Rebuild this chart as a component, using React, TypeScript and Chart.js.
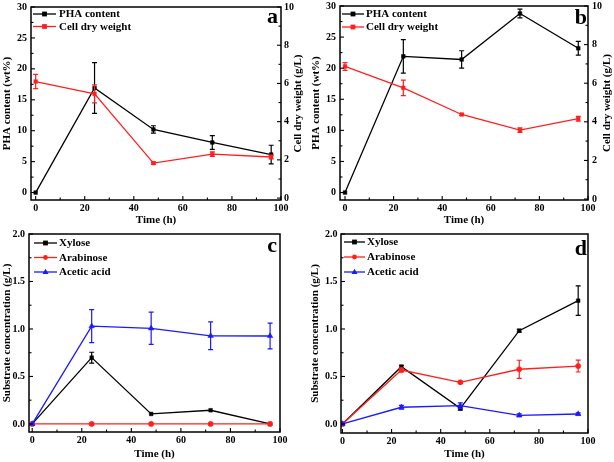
import React, { useEffect, useRef } from "react";
import { Chart, registerables } from "chart.js";
Chart.register(...registerables);

const FONT = "'Liberation Serif', 'Times New Roman', serif";

// ---------- data ----------
const timeH = [0, 24, 48, 72, 96];
const timeTicks = [0, 20, 40, 60, 80, 100];
const phaTicks = [0, 5, 10, 15, 20, 25, 30];
const cdwTicks = [0, 2, 4, 6, 8, 10];
const concTicks = [0, 0.5, 1.0, 1.5, 2.0];

// panel a
const phaA = [0, 16.9, 10.2, 8.1, 6.15];
const phaAErr = [0, 4.1, 0.6, 1.1, 1.5];
const cdwA = [6.1, 5.45, 1.83, 2.3, 2.15];
const cdwAErr = [0.37, 0.47, 0.05, 0.12, 0.1];

// panel b
const phaB = [0, 21.9, 21.4, 28.8, 23.2];
const phaBErr = [0, 2.7, 1.4, 0.7, 1.1];
const cdwB = [6.87, 5.76, 4.38, 3.57, 4.16];
const cdwBErr = [0.2, 0.4, 0.05, 0.12, 0.12];

// panel c
const xylC = [0, 0.698, 0.105, 0.144, 0];
const xylCErr = [0, 0.057, 0, 0, 0];
const araC = [0, 0, 0, 0, 0];
const araCErr = [0, 0, 0, 0, 0];
const aceC = [0, 1.03, 1.007, 0.928, 0.926];
const aceCErr = [0, 0.173, 0.17, 0.146, 0.135];

// panel d
const xylD = [0, 0.603, 0.165, 0.982, 1.298];
const xylDErr = [0, 0.015, 0.02, 0.015, 0.155];
const araD = [0, 0.568, 0.439, 0.576, 0.61];
const araDErr = [0, 0.02, 0.01, 0.095, 0.063];
const aceD = [0, 0.176, 0.193, 0.091, 0.105];
const aceDErr = [0, 0.02, 0.03, 0.015, 0.012];

const BLACK = "#000000";
const RED = "#ff1f1f";
const BLUE = "#1a1aff";

// ---------- helpers ----------
function series(label: string, ys: number[], errs: number[], color: string, style: string, axis: string, order: number) {
  return {
    label,
    data: timeH.map((t, i) => ({ x: t, y: ys[i] })),
    errors: errs,
    borderColor: color,
    backgroundColor: color,
    pointBackgroundColor: color,
    pointBorderColor: color,
    pointStyle: style,
    pointRadius: style === "triangle" ? 3.2 : 2.6,
    pointBorderWidth: 0.5,
    borderWidth: 1.3,
    yAxisID: axis,
    tension: 0,
    order,
  };
}

function midpoints(arr: number[]) {
  const out: number[] = [];
  for (let i = 0; i < arr.length - 1; i++) out.push((arr[i] + arr[i + 1]) / 2);
  return out;
}

function drawMarker(ctx: CanvasRenderingContext2D, style: string, x: number, y: number, r: number) {
  ctx.beginPath();
  if (style === "rect") {
    ctx.rect(x - r, y - r, 2 * r, 2 * r);
  } else if (style === "circle") {
    ctx.arc(x, y, r, 0, Math.PI * 2);
  } else {
    ctx.moveTo(x, y - r * 1.1);
    ctx.lineTo(x + r, y + r * 0.7);
    ctx.lineTo(x - r, y + r * 0.7);
    ctx.closePath();
  }
  ctx.fill();
}

const decorPlugin = {
  id: "decor",
  afterDatasetDraw(chart: any, args: any) {
    const ds = chart.data.datasets[args.index];
    const errs: number[] = ds.errors;
    if (!errs) return;
    const meta = args.meta;
    const ys = chart.scales[meta.yAxisID];
    const ctx = chart.ctx;
    ctx.save();
    ctx.strokeStyle = ds.borderColor;
    ctx.lineWidth = 1.2;
    meta.data.forEach((pt: any, i: number) => {
      const e = errs[i];
      if (!e) return;
      const v = ds.data[i].y;
      const top = ys.getPixelForValue(v + e);
      const bot = ys.getPixelForValue(v - e);
      const x = pt.x;
      ctx.beginPath();
      ctx.moveTo(x, top);
      ctx.lineTo(x, bot);
      ctx.moveTo(x - 2.5, top);
      ctx.lineTo(x + 2.5, top);
      ctx.moveTo(x - 2.5, bot);
      ctx.lineTo(x + 2.5, bot);
      ctx.stroke();
    });
    ctx.restore();
  },
  afterDraw(chart: any, _args: any, opts: any) {
    const ctx: CanvasRenderingContext2D = chart.ctx;
    const a = chart.chartArea;
    ctx.save();
    // frame
    ctx.strokeStyle = "#000";
    ctx.lineWidth = 1.5;
    ctx.strokeRect(a.left, a.top, a.right - a.left, a.bottom - a.top);
    // inward ticks
    ctx.lineWidth = 1.1;
    const tickSets: any[] = opts.ticks || [];
    tickSets.forEach((t: any) => {
      const s = chart.scales[t.axis];
      const draw = (vals: number[], len: number) => {
        vals.forEach((v) => {
          const p = s.getPixelForValue(v);
          ctx.beginPath();
          if (t.axis === "x") {
            ctx.moveTo(p, a.bottom);
            ctx.lineTo(p, a.bottom - len);
          } else if (t.side === "right") {
            ctx.moveTo(a.right, p);
            ctx.lineTo(a.right - len, p);
          } else {
            ctx.moveTo(a.left, p);
            ctx.lineTo(a.left + len, p);
          }
          ctx.stroke();
        });
      };
      draw(t.major, 4);
      draw(midpoints(t.major), 2.5);
    });
    // right-axis title (reads bottom to top)
    if (opts.rightTitle) {
      ctx.save();
      ctx.translate(opts.rightTitle.x, (a.top + a.bottom) / 2);
      ctx.rotate(-Math.PI / 2);
      ctx.font = `bold 11px ${FONT}`;
      ctx.fillStyle = "#000";
      ctx.textAlign = "center";
      ctx.textBaseline = "middle";
      ctx.fillText(opts.rightTitle.text, 0, 0);
      ctx.restore();
    }
    // legend
    const lg = opts.legend;
    if (lg) {
      chart.data.datasets.forEach((ds: any, i: number) => {
        const y = lg.y + i * lg.dy;
        ctx.strokeStyle = ds.borderColor;
        ctx.fillStyle = ds.borderColor;
        ctx.lineWidth = 1.3;
        ctx.beginPath();
        ctx.moveTo(lg.x, y);
        ctx.lineTo(lg.x + lg.len, y);
        ctx.stroke();
        drawMarker(ctx, ds.pointStyle, lg.x + lg.len / 2, y, ds.pointStyle === "triangle" ? 3 : 2.4);
        ctx.fillStyle = "#000";
        ctx.font = `bold 11px ${FONT}`;
        ctx.textAlign = "left";
        ctx.textBaseline = "middle";
        ctx.fillText(ds.label, lg.x + lg.len + lg.gap, y + 0.5);
      });
    }
    // panel letter
    if (opts.letter) {
      ctx.fillStyle = "#000";
      ctx.font = `bold 22px ${FONT}`;
      ctx.textAlign = "right";
      ctx.textBaseline = "alphabetic";
      ctx.fillText(opts.letter.text, opts.letter.x, opts.letter.y);
    }
    ctx.restore();
  },
};

const tickFont = { family: FONT, size: 10, weight: "bold" as const };
const titleFont = { family: FONT, size: 11, weight: "bold" as const };

function vAxis(opts: any) {
  return {
    type: "linear",
    position: opts.position,
    min: opts.min,
    max: opts.max,
    grid: { display: false, drawTicks: false },
    border: { display: false },
    afterBuildTicks: (s: any) => {
      s.ticks = opts.ticks.map((v: number) => ({ value: v }));
    },
    afterFit: (s: any) => {
      s.width = opts.width;
      s.paddingTop = 0;
      s.paddingBottom = 0;
    },
    ticks: {
      autoSkip: false,
      color: "#000",
      font: tickFont,
      padding: opts.pad,
      callback: (v: any) => (opts.fixed ? Number(v).toFixed(1) : String(v)),
    },
    title: opts.title
      ? { display: true, text: opts.title, color: "#000", font: titleFont, padding: { top: opts.titlePad, bottom: 0 } }
      : { display: false },
  };
}

function xAxis(opts: any) {
  return {
    type: "linear",
    min: opts.min,
    max: 100,
    grid: { display: false, drawTicks: false },
    border: { display: false },
    afterBuildTicks: (s: any) => {
      s.ticks = timeTicks.map((v) => ({ value: v }));
    },
    afterFit: (s: any) => {
      s.height = opts.height;
      s.paddingLeft = 0;
      s.paddingRight = 0;
    },
    ticks: { autoSkip: false, maxRotation: 0, color: "#000", font: tickFont, padding: 2 },
    title: { display: true, text: "Time (h)", color: "#000", font: titleFont, padding: { top: 0, bottom: opts.titlePad } },
  };
}

type PanelCfg = {
  left: number;
  top: number;
  w: number;
  h: number;
  padTop: number;
  padRight: number;
  datasets: any[];
  scales: any;
  decor: any;
};

const panels: PanelCfg[] = [
  {
    left: 0,
    top: 0,
    w: 307,
    h: 231,
    padTop: 7,
    padRight: 0,
    datasets: [
      series("PHA content", phaA, phaAErr, BLACK, "rect", "y", 1),
      series("Cell dry weight", cdwA, cdwAErr, RED, "rect", "y2", 0),
    ],
    scales: {
      x: xAxis({ min: -1.9, height: 31, titlePad: 4.4 }),
      y: vAxis({ position: "left", min: -1.2, max: 30, ticks: phaTicks, width: 31, pad: 4, title: "PHA content (wt%)", titlePad: 1 }),
      y2: vAxis({ position: "right", min: -0.1, max: 10, ticks: cdwTicks, width: 26, pad: 3 }),
    },
    decor: {
      ticks: [
        { axis: "x", major: timeTicks },
        { axis: "y", major: phaTicks },
        { axis: "y2", side: "right", major: cdwTicks },
      ],
      rightTitle: { text: "Cell dry weight (g/L)", x: 298 },
      legend: { x: 33, y: 14, dy: 12.5, len: 23, gap: 3 },
      letter: { text: "a", x: 278, y: 23 },
    },
  },
  {
    left: 307,
    top: 0,
    w: 307,
    h: 231,
    padTop: 6,
    padRight: 0,
    datasets: [
      series("PHA content", phaB, phaBErr, BLACK, "rect", "y", 1),
      series("Cell dry weight", cdwB, cdwBErr, RED, "rect", "y2", 0),
    ],
    scales: {
      x: xAxis({ min: -2.06, height: 31, titlePad: 4.4 }),
      y: vAxis({ position: "left", min: -1.2, max: 30, ticks: phaTicks, width: 33, pad: 4, title: "PHA content (wt%)", titlePad: 2.4 }),
      y2: vAxis({ position: "right", min: -0.05, max: 10, ticks: cdwTicks, width: 26, pad: 4 }),
    },
    decor: {
      ticks: [
        { axis: "x", major: timeTicks },
        { axis: "y", major: phaTicks },
        { axis: "y2", side: "right", major: cdwTicks },
      ],
      rightTitle: { text: "Cell dry weight (g/L)", x: 300 },
      legend: { x: 35, y: 14, dy: 13, len: 22, gap: 2 },
      letter: { text: "b", x: 280, y: 24 },
    },
  },
  {
    left: 0,
    top: 225,
    w: 307,
    h: 237,
    padTop: 9,
    padRight: 27,
    datasets: [
      series("Xylose", xylC, xylCErr, BLACK, "rect", "y", 2),
      series("Arabinose", araC, araCErr, RED, "circle", "y", 1),
      series("Acetic acid", aceC, aceCErr, BLUE, "triangle", "y", 0),
    ],
    scales: {
      x: xAxis({ min: -1.3, height: 30, titlePad: 1.1 }),
      y: vAxis({ position: "left", min: -0.085, max: 2.0, ticks: concTicks, width: 29, pad: 4, fixed: true, title: "Substrate concentration (g/L)", titlePad: 0.4 }),
    },
    decor: {
      ticks: [
        { axis: "x", major: timeTicks },
        { axis: "y", major: concTicks },
      ],
      legend: { x: 34, y: 18, dy: 14.5, len: 23, gap: 2 },
      letter: { text: "c", x: 277, y: 27 },
    },
  },
  {
    left: 307,
    top: 225,
    w: 307,
    h: 237,
    padTop: 9,
    padRight: 26,
    datasets: [
      series("Xylose", xylD, xylDErr, BLACK, "rect", "y", 2),
      series("Arabinose", araD, araDErr, RED, "circle", "y", 1),
      series("Acetic acid", aceD, aceDErr, BLUE, "triangle", "y", 0),
    ],
    scales: {
      x: xAxis({ min: -0.6, height: 29, titlePad: 1.1 }),
      y: vAxis({ position: "left", min: -0.095, max: 2.0, ticks: concTicks, width: 34, pad: 3.5, fixed: true, title: "Substrate concentration (g/L)", titlePad: 1.4 }),
    },
    decor: {
      ticks: [
        { axis: "x", major: timeTicks },
        { axis: "y", major: concTicks },
      ],
      legend: { x: 37, y: 17, dy: 15, len: 21, gap: 2 },
      letter: { text: "d", x: 280, y: 30 },
    },
  },
];

function Panel({ cfg }: { cfg: PanelCfg }) {
  const ref = useRef<HTMLCanvasElement>(null);
  useEffect(() => {
    const chart = new Chart(ref.current as HTMLCanvasElement, {
      type: "line",
      data: { datasets: cfg.datasets as any },
      options: {
        responsive: false,
        animation: false,
        devicePixelRatio: 1,
        layout: { padding: { top: cfg.padTop, right: cfg.padRight, left: 0, bottom: 0 } },
        scales: cfg.scales,
        plugins: {
          legend: { display: false },
          tooltip: { enabled: false },
          decor: cfg.decor,
        } as any,
      } as any,
      plugins: [decorPlugin as any],
    });
    return () => chart.destroy();
  }, [cfg]);
  return (
    <canvas
      ref={ref}
      width={cfg.w}
      height={cfg.h}
      style={{ position: "absolute", left: cfg.left, top: cfg.top, width: cfg.w, height: cfg.h }}
    />
  );
}

export default function App() {
  return (
    <div style={{ position: "absolute", left: 0, top: 0, width: 614, height: 462, background: "#fff", overflow: "hidden" }}>
      {panels.map((p, i) => (
        <Panel key={i} cfg={p} />
      ))}
    </div>
  );
}
